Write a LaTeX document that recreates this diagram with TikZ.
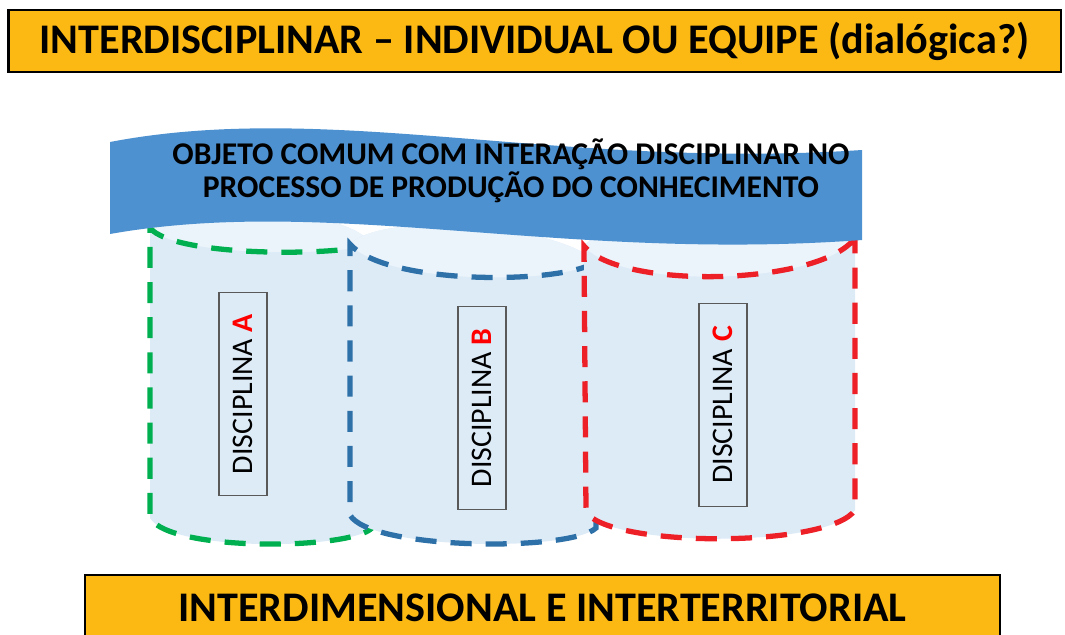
\documentclass[tikz,border=0pt]{standalone}
\usepackage{fontspec}
\setmainfont{Carlito}
\usetikzlibrary{positioning}
\definecolor{faixa}{RGB}{253,185,19}
\definecolor{azulfaixa}{RGB}{77,145,208}
\definecolor{corpo}{RGB}{221,235,247}
\definecolor{tampa}{RGB}{235,243,251}
\definecolor{verdeA}{RGB}{0,176,80}
\definecolor{azulB}{RGB}{46,112,168}
\definecolor{vermC}{RGB}{238,32,39}
\tikzset{
  titulo/.style={draw=black, line width=1.6pt, fill=faixa, font=\bfseries\fontsize{24}{28}\selectfont, inner sep=0pt},
  borda/.style={line width=3pt, dash pattern=on 12pt off 8pt},
  rotulo/.style={draw=black!65, line width=0.8pt, rotate=90, minimum width=4.05cm, minimum height=0.96cm, font=\fontsize{17}{20}\selectfont, inner sep=0pt}
}

\begin{document}
\begin{tikzpicture}[x=0.02cm, y=-0.02cm]
      \useasboundingbox (0,0) rectangle (1065,635);

      % disciplina A
      \fill[corpo] (150,228) -- (150,518) .. controls (170,552) and (350,550) .. (372,528) -- (372,244) .. controls (345,205) and (175,200) .. (150,228);
      \fill[tampa] (150,228) .. controls (175,258) and (345,256) .. (372,244) .. controls (345,205) and (175,200) .. (150,228);
      \draw[borda, verdeA] (372,244) .. controls (345,256) and (175,258) .. (150,228) -- (150,518) .. controls (170,552) and (350,550) .. (372,528) -- cycle;

      % disciplina B
      \fill[corpo] (350,244) -- (350,515) .. controls (370,550) and (570,552) .. (596,528) -- (596,262) .. controls (560,225) and (385,210) .. (350,244);
      \fill[tampa] (350,244) .. controls (385,285) and (560,285) .. (596,262) .. controls (560,225) and (385,210) .. (350,244);
      \draw[borda, azulB] (596,262) .. controls (560,285) and (385,285) .. (350,244) -- (350,515) .. controls (370,550) and (570,552) .. (596,528) -- cycle;

      % disciplina C
      \fill[corpo] (584,246) -- (586,512) .. controls (610,548) and (830,548) .. (855,510) -- (855,238) .. controls (820,200) and (620,205) .. (584,246);
      \fill[tampa] (584,246) .. controls (620,290) and (820,286) .. (855,238) .. controls (820,200) and (620,205) .. (584,246);
      \draw[borda, vermC] (855,238) .. controls (820,286) and (620,290) .. (584,246) -- (586,512) .. controls (610,548) and (830,548) .. (855,510) -- cycle;

      % faixa ondulada
      \fill[azulfaixa] (110,142) .. controls (330,100) and (560,170) .. (862,150) -- (862,240) .. controls (560,262) and (330,195) .. (110,234) -- cycle;
      \node[font=\bfseries\fontsize{18}{19}\selectfont, align=center] (objeto) at (511,171) {OBJETO COMUM COM INTERAÇÃO DISCIPLINAR NO\\PROCESSO DE PRODUÇÃO DO CONHECIMENTO};

      \node[rotulo] (discA) at (243,394) {DISCIPLINA \textcolor{red}{\textbf{A}}};
      \node[rotulo] (discB) at (482,408) {DISCIPLINA \textcolor{red}{\textbf{B}}};
      \node[rotulo] (discC) at (723,405) {DISCIPLINA \textcolor{red}{\textbf{C}}};

      \node[titulo, minimum width=21.06cm, minimum height=1.24cm] (titulo) at (534.5,41) {INTERDISCIPLINAR -- INDIVIDUAL OU EQUIPE (dialógica?)};
      \node[titulo, minimum width=18.3cm, minimum height=1.3cm] (base) at (542.5,607.5) {INTERDIMENSIONAL E INTERTERRITORIAL};
\end{tikzpicture}
\end{document}
